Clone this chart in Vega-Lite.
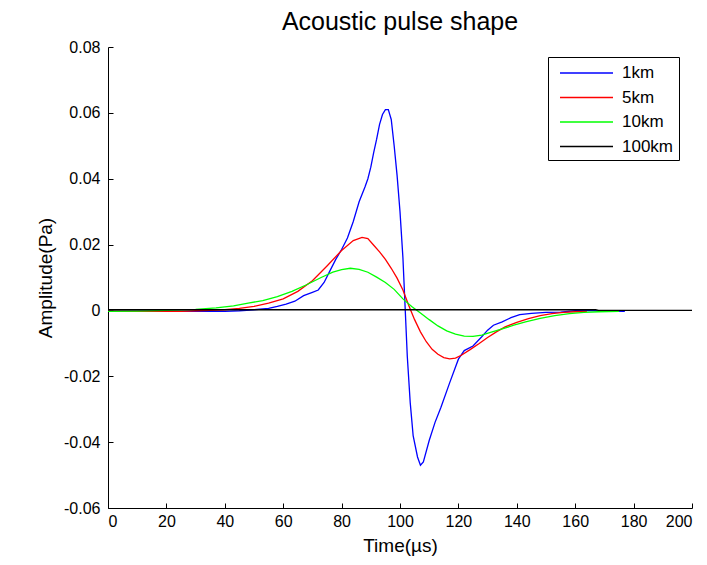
{
  "$schema": "https://vega.github.io/schema/vega-lite/v6.json",
  "width": 584,
  "height": 461,
  "autosize": "none",
  "padding": {"left": 108, "top": 47, "right": 15, "bottom": 57},
  "background": "white",
  "title": {"text": "Acoustic pulse shape", "font": "Liberation Sans", "fontSize": 25, "fontWeight": "normal", "color": "black", "offset": 4},
  "config": {
    "view": {"stroke": null},
    "axis": {"labelFont": "Liberation Sans", "labelFontSize": 16, "labelColor": "black", "titleFont": "Liberation Sans", "titleFontSize": 19, "titleFontWeight": "normal", "titleColor": "black", "domainColor": "black", "tickColor": "black", "grid": false, "tickSize": -5}
  },
  "data": {"values": [
    {"t":0,"a":-0.0002,"s":"1km"},{"t":10,"a":-0.0002,"s":"1km"},{"t":20,"a":-0.0002,"s":"1km"},{"t":30,"a":-0.0003,"s":"1km"},{"t":35,"a":-0.0002,"s":"1km"},{"t":40,"a":-0.0003,"s":"1km"},{"t":45,"a":-0.0001,"s":"1km"},{"t":50,"a":0.0002,"s":"1km"},{"t":55,"a":0.0006,"s":"1km"},{"t":58,"a":0.0012,"s":"1km"},{"t":61,"a":0.0019,"s":"1km"},{"t":64,"a":0.0028,"s":"1km"},{"t":67,"a":0.0045,"s":"1km"},{"t":70,"a":0.0055,"s":"1km"},{"t":72,"a":0.0062,"s":"1km"},{"t":74,"a":0.0085,"s":"1km"},{"t":76,"a":0.012,"s":"1km"},{"t":78,"a":0.0155,"s":"1km"},{"t":80,"a":0.0185,"s":"1km"},{"t":82,"a":0.022,"s":"1km"},{"t":84,"a":0.027,"s":"1km"},{"t":86,"a":0.033,"s":"1km"},{"t":88,"a":0.0375,"s":"1km"},{"t":89,"a":0.04,"s":"1km"},{"t":90,"a":0.0435,"s":"1km"},{"t":91,"a":0.048,"s":"1km"},{"t":92,"a":0.052,"s":"1km"},{"t":93,"a":0.0565,"s":"1km"},{"t":94,"a":0.0595,"s":"1km"},{"t":95,"a":0.061,"s":"1km"},{"t":96,"a":0.061,"s":"1km"},{"t":97,"a":0.058,"s":"1km"},{"t":98,"a":0.05,"s":"1km"},{"t":99,"a":0.041,"s":"1km"},{"t":100,"a":0.03,"s":"1km"},{"t":101,"a":0.016,"s":"1km"},{"t":101.7,"a":0.002,"s":"1km"},{"t":102.5,"a":-0.014,"s":"1km"},{"t":103.5,"a":-0.028,"s":"1km"},{"t":104.5,"a":-0.038,"s":"1km"},{"t":106,"a":-0.0445,"s":"1km"},{"t":107,"a":-0.047,"s":"1km"},{"t":108,"a":-0.046,"s":"1km"},{"t":110,"a":-0.0395,"s":"1km"},{"t":112,"a":-0.034,"s":"1km"},{"t":114,"a":-0.0295,"s":"1km"},{"t":117,"a":-0.022,"s":"1km"},{"t":120,"a":-0.0148,"s":"1km"},{"t":122,"a":-0.0122,"s":"1km"},{"t":125,"a":-0.0108,"s":"1km"},{"t":128,"a":-0.008,"s":"1km"},{"t":130,"a":-0.006,"s":"1km"},{"t":132,"a":-0.0045,"s":"1km"},{"t":135,"a":-0.0035,"s":"1km"},{"t":138,"a":-0.0022,"s":"1km"},{"t":141,"a":-0.0013,"s":"1km"},{"t":145,"a":-0.0009,"s":"1km"},{"t":150,"a":-0.0006,"s":"1km"},{"t":155,"a":-0.0005,"s":"1km"},{"t":160,"a":-0.0001,"s":"1km"},{"t":165,"a":0,"s":"1km"},{"t":170,"a":-0.0002,"s":"1km"},{"t":177,"a":-0.0003,"s":"1km"},
    {"t":0,"a":-0.0002,"s":"5km"},{"t":10,"a":-0.0003,"s":"5km"},{"t":20,"a":-0.0003,"s":"5km"},{"t":25,"a":-0.0003,"s":"5km"},{"t":30,"a":-0.0001,"s":"5km"},{"t":35,"a":0,"s":"5km"},{"t":40,"a":0.0002,"s":"5km"},{"t":45,"a":0.0006,"s":"5km"},{"t":50,"a":0.0012,"s":"5km"},{"t":55,"a":0.0022,"s":"5km"},{"t":60,"a":0.0035,"s":"5km"},{"t":65,"a":0.0058,"s":"5km"},{"t":70,"a":0.009,"s":"5km"},{"t":75,"a":0.0135,"s":"5km"},{"t":80,"a":0.0182,"s":"5km"},{"t":84,"a":0.0212,"s":"5km"},{"t":87,"a":0.0222,"s":"5km"},{"t":89,"a":0.0218,"s":"5km"},{"t":91,"a":0.0198,"s":"5km"},{"t":93,"a":0.0178,"s":"5km"},{"t":95,"a":0.0155,"s":"5km"},{"t":97,"a":0.0128,"s":"5km"},{"t":99,"a":0.0098,"s":"5km"},{"t":101,"a":0.0062,"s":"5km"},{"t":103,"a":0.0015,"s":"5km"},{"t":105,"a":-0.0028,"s":"5km"},{"t":107,"a":-0.0065,"s":"5km"},{"t":109,"a":-0.0095,"s":"5km"},{"t":111,"a":-0.0118,"s":"5km"},{"t":113,"a":-0.0133,"s":"5km"},{"t":115,"a":-0.0143,"s":"5km"},{"t":117,"a":-0.0147,"s":"5km"},{"t":119,"a":-0.0145,"s":"5km"},{"t":121,"a":-0.0136,"s":"5km"},{"t":124,"a":-0.0119,"s":"5km"},{"t":127,"a":-0.0101,"s":"5km"},{"t":130,"a":-0.0082,"s":"5km"},{"t":133,"a":-0.0065,"s":"5km"},{"t":136,"a":-0.005,"s":"5km"},{"t":140,"a":-0.0036,"s":"5km"},{"t":144,"a":-0.0025,"s":"5km"},{"t":148,"a":-0.0016,"s":"5km"},{"t":152,"a":-0.001,"s":"5km"},{"t":156,"a":-0.0006,"s":"5km"},{"t":160,"a":-0.0004,"s":"5km"},{"t":164,"a":-0.0003,"s":"5km"},
    {"t":0,"a":-0.0003,"s":"10km"},{"t":10,"a":-0.0002,"s":"10km"},{"t":20,"a":0,"s":"10km"},{"t":30,"a":0.0003,"s":"10km"},{"t":37,"a":0.0008,"s":"10km"},{"t":43,"a":0.0014,"s":"10km"},{"t":48,"a":0.0022,"s":"10km"},{"t":53,"a":0.003,"s":"10km"},{"t":58,"a":0.0042,"s":"10km"},{"t":63,"a":0.0058,"s":"10km"},{"t":68,"a":0.0078,"s":"10km"},{"t":73,"a":0.01,"s":"10km"},{"t":77,"a":0.0116,"s":"10km"},{"t":80,"a":0.0124,"s":"10km"},{"t":83,"a":0.0128,"s":"10km"},{"t":86,"a":0.0125,"s":"10km"},{"t":89,"a":0.0116,"s":"10km"},{"t":92,"a":0.0101,"s":"10km"},{"t":95,"a":0.0085,"s":"10km"},{"t":98,"a":0.0064,"s":"10km"},{"t":101,"a":0.0035,"s":"10km"},{"t":104,"a":0.0012,"s":"10km"},{"t":107,"a":-0.0008,"s":"10km"},{"t":110,"a":-0.0028,"s":"10km"},{"t":113,"a":-0.0047,"s":"10km"},{"t":116,"a":-0.0062,"s":"10km"},{"t":119,"a":-0.0072,"s":"10km"},{"t":122,"a":-0.0078,"s":"10km"},{"t":125,"a":-0.0079,"s":"10km"},{"t":128,"a":-0.0075,"s":"10km"},{"t":131,"a":-0.0067,"s":"10km"},{"t":135,"a":-0.0056,"s":"10km"},{"t":139,"a":-0.0045,"s":"10km"},{"t":143,"a":-0.0035,"s":"10km"},{"t":148,"a":-0.0024,"s":"10km"},{"t":153,"a":-0.0016,"s":"10km"},{"t":158,"a":-0.001,"s":"10km"},{"t":163,"a":-0.0006,"s":"10km"},{"t":168,"a":-0.0004,"s":"10km"},{"t":175,"a":-0.0003,"s":"10km"},
    {"t":0,"a":0.0002,"s":"100km"},{"t":100,"a":0.0002,"s":"100km"},{"t":167,"a":0.0002,"s":"100km"},{"t":168,"a":0,"s":"100km"},{"t":200,"a":0,"s":"100km"}
  ]},
  "mark": {"type": "line", "strokeWidth": 1.3, "clip": true},
  "encoding": {
    "x": {"field": "t", "type": "quantitative", "title": "Time(µs)",
      "scale": {"domain": [0, 200], "nice": false},
      "axis": {"values": [0,20,40,60,80,100,120,140,160,180,200], "labelPadding": 10, "titlePadding": 7}},
    "y": {"field": "a", "type": "quantitative", "title": "Amplitude(Pa)",
      "scale": {"domain": [-0.06, 0.08], "nice": false, "zero": false},
      "axis": {"values": [-0.06,-0.04,-0.02,0,0.02,0.04,0.06,0.08], "labelExpr": "replace(format(datum.value, '.2~f'), '−', '-')", "labelPadding": 13, "titlePadding": 8}},
    "color": {"field": "s", "type": "nominal",
      "scale": {"domain": ["1km","5km","10km","100km"], "range": ["#0000ff","#ff0000","#00ff00","#000000"]},
      "legend": {"title": null, "orient": "none", "legendX": 440, "legendY": 10, "symbolType": "M-1,0H4.3", "symbolSize": 400, "symbolStrokeWidth": 1.3, "labelFont": "Liberation Sans", "labelFontSize": 17, "labelColor": "black", "fillColor": "white", "strokeColor": "black", "padding": 5, "rowPadding": 5.5, "labelOffset": 41, "symbolOffset": 6}},
    "detail": {"field": "s"},
    "order": {"field": "t", "type": "quantitative"}
  }
}
